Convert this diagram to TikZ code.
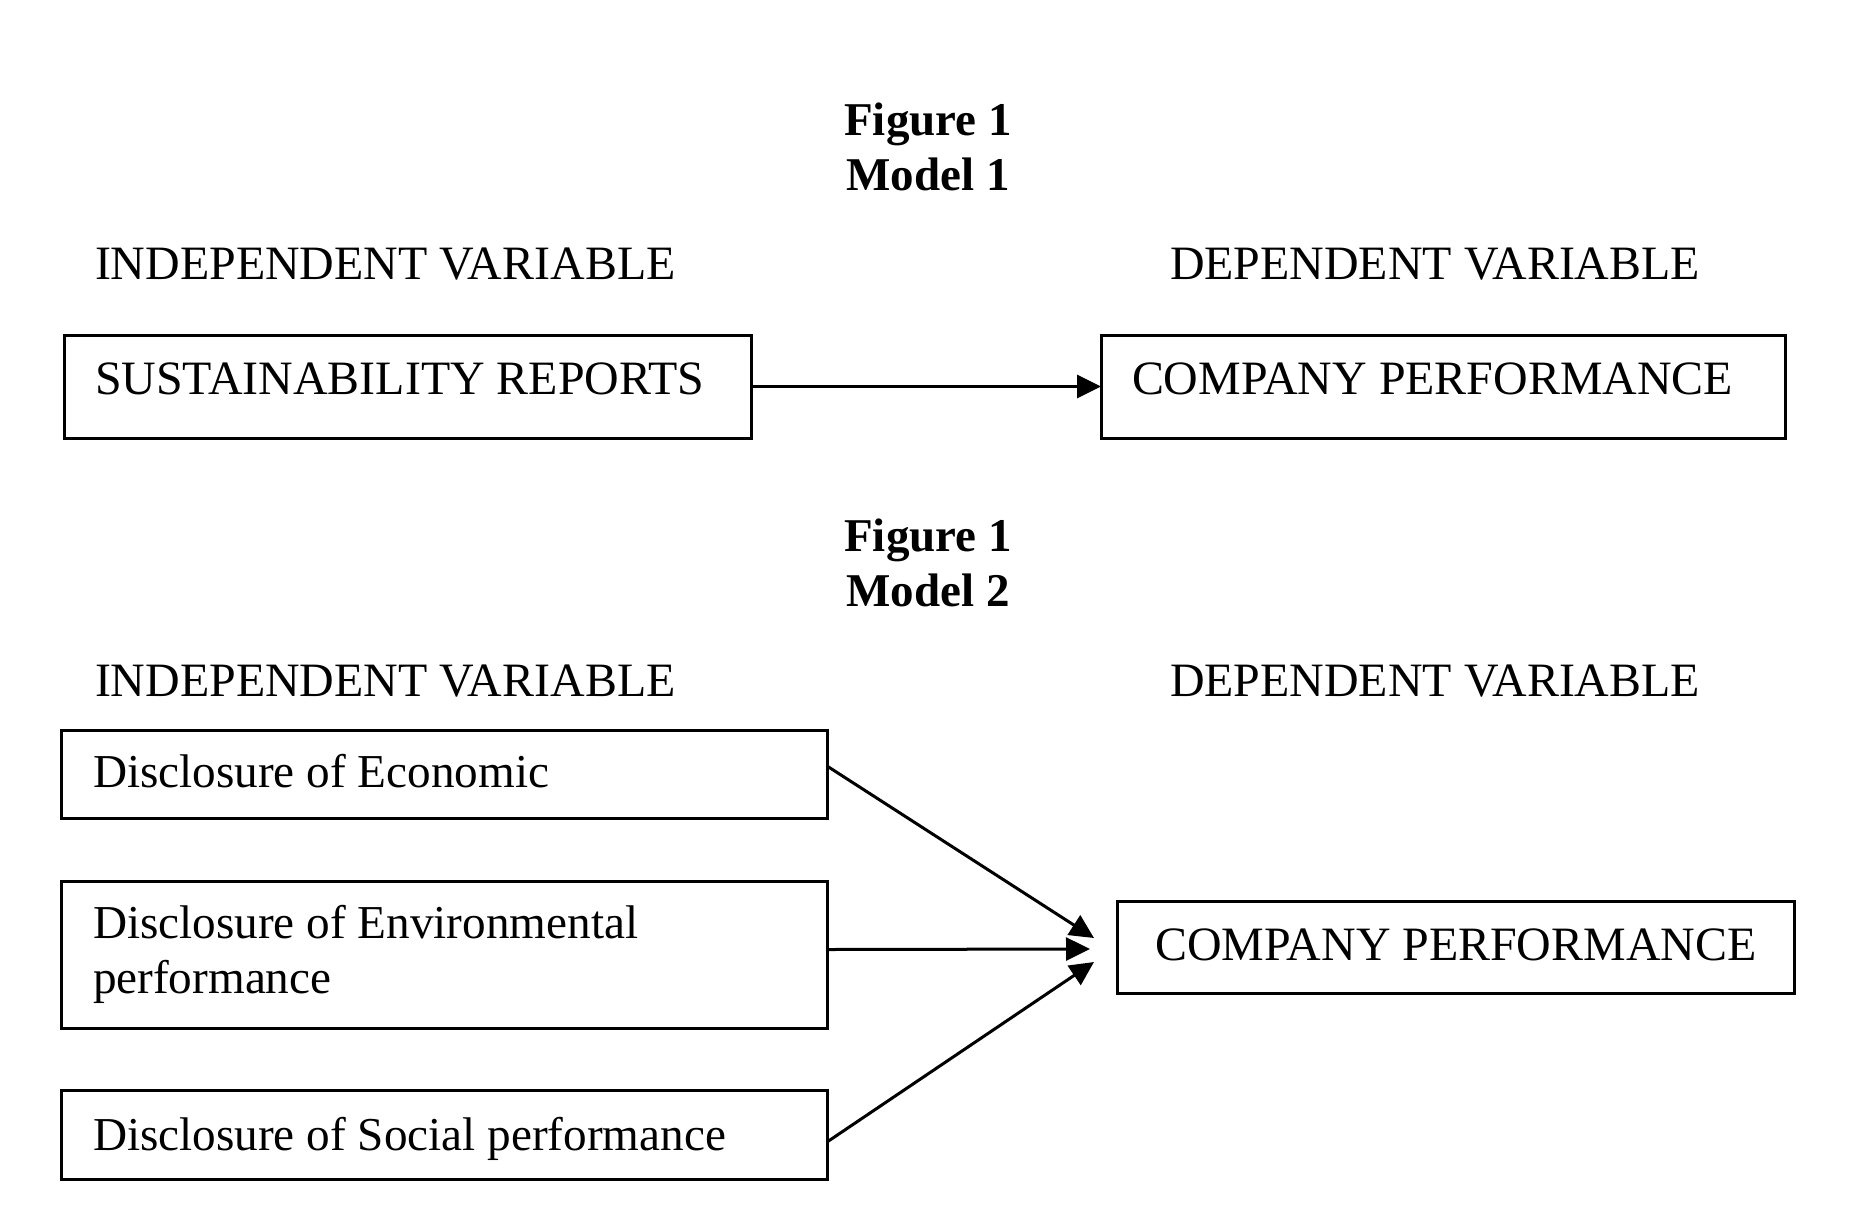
\documentclass[tikz,border=0pt]{standalone}
\usepackage{fontspec}
\setmainfont{Liberation Serif}
\usetikzlibrary{arrows.meta}
\begin{document}
\begin{tikzpicture}[x=1pt,y=-1pt,
  every node/.style={font=\fontsize{47.9}{55}\selectfont, inner sep=0pt, outer sep=0pt},
  box/.style={draw, line width=3pt, rectangle},
  txt/.style={anchor=base west},
  ltxt/.style={anchor=base west, font=\fontsize{47.2}{55}\selectfont},
  ttl/.style={anchor=base, font=\fontsize{47}{55}\selectfont\bfseries},
  arr/.style={line width=3pt, -{Triangle[length=24pt,width=23pt]}}]
\useasboundingbox (0,0) rectangle (1865,1224);
% Model 1
\node[ttl] (f1) at (928,135) {Figure 1};
\node[ttl] (m1) at (928,190) {Model 1};
\node[txt] (iv1) at (95,279) {INDEPENDENT VARIABLE};
\node[txt] (dv1) at (1170,279) {DEPENDENT VARIABLE};
\node[box, minimum width=687pt, minimum height=103pt] (sr) at (407.5,386.5) {};
\node[box, minimum width=684pt, minimum height=103pt] (cp1) at (1443,386.5) {};
\node[txt] (srt) at (95,394) {SUSTAINABILITY REPORTS};
\node[txt] (cp1t) at (1132,394) {COMPANY PERFORMANCE};
\draw[arr] (sr.east) -- (cp1.west);
% Model 2
\node[ttl] (f2) at (928,551) {Figure 1};
\node[ttl] (m2) at (928,606) {Model 2};
\node[txt] (iv2) at (95,696) {INDEPENDENT VARIABLE};
\node[txt] (dv2) at (1170,696) {DEPENDENT VARIABLE};
\node[box, minimum width=766pt, minimum height=88pt] (econ) at (444,774) {};
\node[box, minimum width=766pt, minimum height=147pt] (env) at (444,954.5) {};
\node[box, minimum width=766pt, minimum height=89pt] (soc) at (444,1134.5) {};
\node[box, minimum width=677pt, minimum height=92pt] (cp2) at (1455.5,947) {};
\node[ltxt] (econt) at (93,787) {Disclosure of Economic};
\node[ltxt] (envt1) at (93,938) {Disclosure of Environmental};
\node[ltxt] (envt2) at (93,993) {performance};
\node[ltxt] (soct) at (93,1150) {Disclosure of Social performance};
\node[anchor=base] (cp2t) at (1456,960) {COMPANY PERFORMANCE};
\draw[arr] ([yshift=8pt]econ.east) -- ([xshift=-23pt,yshift=9pt]cp2.west);
\draw[arr] ([yshift=5pt]env.east) -- ([xshift=-27pt,yshift=-2pt]cp2.west);
\draw[arr] ([yshift=-7.5pt]soc.east) -- ([xshift=-23pt,yshift=-15pt]cp2.west);
\end{tikzpicture}
\end{document}
